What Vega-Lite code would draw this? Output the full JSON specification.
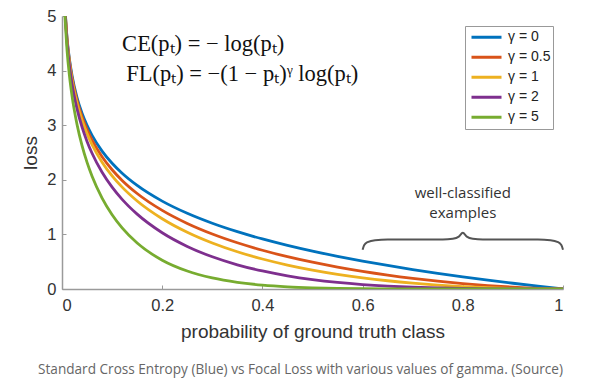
{
  "$schema": "https://vega.github.io/schema/vega-lite/v6.json",
  "autosize": "none",
  "width": 501,
  "height": 273,
  "padding": {"left": 62, "top": 16, "right": 32, "bottom": 100},
  "background": "white",
  "config": {
    "view": {"stroke": null},
    "font": "Liberation Sans",
    "axis": {
      "domainColor": "#9a9a9a",
      "tickColor": "#9a9a9a",
      "grid": false,
      "labelColor": "#333333",
      "titleColor": "#333333",
      "labelFont": "Liberation Sans",
      "titleFont": "Liberation Sans",
      "labelFontSize": 16.5,
      "titleFontSize": 19,
      "titleFontWeight": "normal",
      "tickSize": -4,
      "domainWidth": 1.5
    }
  },
  "title": {
    "text": "Standard Cross Entropy (Blue) vs Focal Loss with various values of gamma. (Source)",
    "orient": "bottom",
    "anchor": "middle",
    "font": "Open Sans",
    "fontSize": 13.6,
    "fontWeight": "normal",
    "color": "#666666",
    "offset": 21,
    "dx": -12
  },
  "layer": [
    {
      "data": {
        "values": [
          {"p": 0.005, "g0": 5.2983, "g05": 5.2851, "g1": 5.2718, "g2": 5.2454, "g5": 5.1672},
          {"p": 0.01, "g0": 4.6052, "g05": 4.5821, "g1": 4.5591, "g2": 4.5135, "g5": 4.3795},
          {"p": 0.015, "g0": 4.1997, "g05": 4.1681, "g1": 4.1367, "g2": 4.0746, "g5": 3.8942},
          {"p": 0.02, "g0": 3.912, "g05": 3.8727, "g1": 3.8338, "g2": 3.7571, "g5": 3.5362},
          {"p": 0.03, "g0": 3.5066, "g05": 3.4536, "g1": 3.4014, "g2": 3.2994, "g5": 3.0112},
          {"p": 0.04, "g0": 3.2189, "g05": 3.1539, "g1": 3.0901, "g2": 2.9665, "g5": 2.6246},
          {"p": 0.05, "g0": 2.9957, "g05": 2.9198, "g1": 2.8459, "g2": 2.7036, "g5": 2.318},
          {"p": 0.06, "g0": 2.8134, "g05": 2.7277, "g1": 2.6446, "g2": 2.4859, "g5": 2.0648},
          {"p": 0.08, "g0": 2.5257, "g05": 2.4226, "g1": 2.3236, "g2": 2.1377, "g5": 1.6646},
          {"p": 0.1, "g0": 2.3026, "g05": 2.1844, "g1": 2.0723, "g2": 1.8651, "g5": 1.3597},
          {"p": 0.12, "g0": 2.1203, "g05": 1.989, "g1": 1.8659, "g2": 1.642, "g5": 1.1189},
          {"p": 0.15, "g0": 1.8971, "g05": 1.749, "g1": 1.6125, "g2": 1.3706, "g5": 0.8418},
          {"p": 0.2, "g0": 1.6094, "g05": 1.4395, "g1": 1.2875, "g2": 1.03, "g5": 0.5274},
          {"p": 0.25, "g0": 1.3863, "g05": 1.2006, "g1": 1.0397, "g2": 0.7798, "g5": 0.329},
          {"p": 0.3, "g0": 1.204, "g05": 1.0073, "g1": 0.8428, "g2": 0.59, "g5": 0.2024},
          {"p": 0.35, "g0": 1.0498, "g05": 0.8464, "g1": 0.6824, "g2": 0.4436, "g5": 0.1218},
          {"p": 0.4, "g0": 0.9163, "g05": 0.7098, "g1": 0.5498, "g2": 0.3299, "g5": 0.0713},
          {"p": 0.45, "g0": 0.7985, "g05": 0.5922, "g1": 0.4392, "g2": 0.2416, "g5": 0.0402},
          {"p": 0.5, "g0": 0.6931, "g05": 0.4901, "g1": 0.3466, "g2": 0.1733, "g5": 0.0217},
          {"p": 0.55, "g0": 0.5978, "g05": 0.401, "g1": 0.269, "g2": 0.1211, "g5": 0.011},
          {"p": 0.6, "g0": 0.5108, "g05": 0.3231, "g1": 0.2043, "g2": 0.0817, "g5": 0.0052},
          {"p": 0.65, "g0": 0.4308, "g05": 0.2549, "g1": 0.1508, "g2": 0.0528, "g5": 0.0023},
          {"p": 0.7, "g0": 0.3567, "g05": 0.1954, "g1": 0.107, "g2": 0.0321, "g5": 0.0009},
          {"p": 0.75, "g0": 0.2877, "g05": 0.1438, "g1": 0.0719, "g2": 0.018, "g5": 0.0003},
          {"p": 0.8, "g0": 0.2231, "g05": 0.0998, "g1": 0.0446, "g2": 0.0089, "g5": 0.0001},
          {"p": 0.85, "g0": 0.1625, "g05": 0.0629, "g1": 0.0244, "g2": 0.0037, "g5": 0},
          {"p": 0.9, "g0": 0.1054, "g05": 0.0333, "g1": 0.0105, "g2": 0.0011, "g5": 0},
          {"p": 0.95, "g0": 0.0513, "g05": 0.0115, "g1": 0.0026, "g2": 0.0001, "g5": 0},
          {"p": 1.0, "g0": 0, "g05": 0, "g1": 0, "g2": 0, "g5": 0}
        ]
      },
      "transform": [
        {"fold": ["g0", "g05", "g1", "g2", "g5"], "as": ["gamma", "loss"]}
      ],
      "mark": {"type": "line", "strokeWidth": 2.8, "clip": true, "interpolate": "monotone"},
      "encoding": {
        "x": {
          "field": "p", "type": "quantitative",
          "scale": {"domain": [0, 1], "nice": false},
          "axis": {"values": [0, 0.2, 0.4, 0.6, 0.8, 1], "format": "~g", "title": "probability of ground truth class", "labelPadding": 12, "titlePadding": 9}
        },
        "y": {
          "field": "loss", "type": "quantitative",
          "scale": {"domain": [0, 5], "nice": false},
          "axis": {"values": [0, 1, 2, 3, 4, 5], "title": "loss", "labelPadding": 10, "titlePadding": 6}
        },
        "color": {
          "field": "gamma", "type": "nominal",
          "scale": {
            "domain": ["g0", "g05", "g1", "g2", "g5"],
            "range": ["#0072BD", "#D95319", "#EDB120", "#7E2F8E", "#77AC30"]
          },
          "legend": {
            "title": null,
            "orient": "top-right",
            "offset": 10,
            "symbolType": "stroke",
            "symbolSize": 900,
            "symbolStrokeWidth": 3,
            "symbolOffset": 3,
            "labelOffset": 5,
            "labelFontSize": 14,
            "labelFont": "Liberation Sans",
            "labelColor": "#222222",
            "labelExpr": "{'g0': 'γ = 0', 'g05': 'γ = 0.5', 'g1': 'γ = 1', 'g2': 'γ = 2', 'g5': 'γ = 5'}[datum.label]",
            "clipHeight": 18.5,
            "rowPadding": 1,
            "padding": 2,
            "strokeColor": "#999999",
            "fillColor": "white"
          }
        }
      }
    },
    {
      "data": {
        "values": [
          {"bx": 0.6, "by": 0.72},
          {"bx": 0.603, "by": 0.8},
          {"bx": 0.61, "by": 0.86},
          {"bx": 0.625, "by": 0.895},
          {"bx": 0.65, "by": 0.905},
          {"bx": 0.76, "by": 0.905},
          {"bx": 0.78, "by": 0.92},
          {"bx": 0.792, "by": 0.96},
          {"bx": 0.8, "by": 1.03},
          {"bx": 0.808, "by": 0.96},
          {"bx": 0.82, "by": 0.92},
          {"bx": 0.84, "by": 0.905},
          {"bx": 0.95, "by": 0.905},
          {"bx": 0.975, "by": 0.895},
          {"bx": 0.99, "by": 0.86},
          {"bx": 0.997, "by": 0.8},
          {"bx": 1.0, "by": 0.72}
        ]
      },
      "mark": {"type": "line", "color": "#555555", "strokeWidth": 2, "interpolate": "monotone"},
      "encoding": {
        "x": {"field": "bx", "type": "quantitative"},
        "y": {"field": "by", "type": "quantitative"}
      }
    },
    {
      "data": {
        "values": [
          {"tx": 0.8, "ty": 1.76, "label": "well-classified"},
          {"tx": 0.8, "ty": 1.39, "label": "examples"}
        ]
      },
      "mark": {"type": "text", "font": "Open Sans", "fontSize": 15, "color": "#333333", "align": "center", "baseline": "middle"},
      "encoding": {
        "x": {"field": "tx", "type": "quantitative"},
        "y": {"field": "ty", "type": "quantitative"},
        "text": {"field": "label"}
      }
    },
    {
      "data": {
        "values": [
          {"tx": 0.12, "ty": 4.49, "label": "CE(pₜ) = − log(pₜ)"},
          {"tx": 0.128, "ty": 3.94, "label": "FL(pₜ) = −(1 − pₜ)ᵞ log(pₜ)"}
        ]
      },
      "mark": {"type": "text", "font": "Liberation Serif", "fontSize": 22.5, "color": "#111111", "align": "left", "baseline": "middle"},
      "encoding": {
        "x": {"field": "tx", "type": "quantitative"},
        "y": {"field": "ty", "type": "quantitative"},
        "text": {"field": "label"}
      }
    }
  ]
}
